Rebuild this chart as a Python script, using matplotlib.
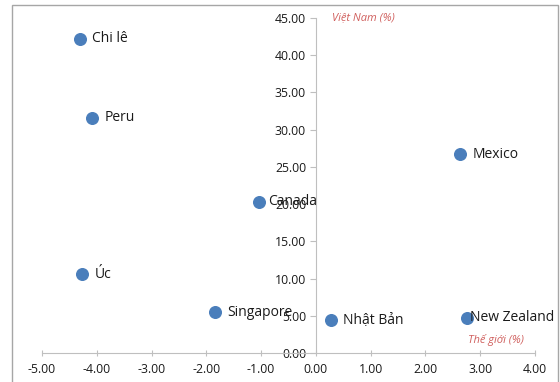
import matplotlib
matplotlib.use("Agg")
import matplotlib.pyplot as plt
from matplotlib.patches import Rectangle

plt.rcParams['font.family'] = ['Open Sans', 'DejaVu Sans']

# data
countries = ["Chi lê", "Peru", "Mexico", "Canada", "Úc", "Singapore", "Nhật Bản", "New Zealand"]
world = [-4.31, -4.09, 2.63, -1.04, -4.27, -1.84, 0.27, 2.77]
vietnam = [42.2, 31.6, 26.7, 20.3, 10.6, 5.5, 4.4, 4.7]
label_dx = [9, 9, 9, 7, 9, 9, 9, 2]

xticks = [-5, -4, -3, -2, -1, 0, 1, 2, 3, 4]
yticks = [0, 5, 10, 15, 20, 25, 30, 35, 40, 45]

fig = plt.figure(figsize=(5.6, 3.82), dpi=100)
ax = fig.add_axes([0.075, 0.076, 0.880, 0.877])

# light frame around the chart area like the excel export
fig.patches.append(Rectangle((0.021, -0.01), 0.975, 0.997, transform=fig.transFigure,
                             fill=False, edgecolor="#a6a6a6", linewidth=1.0))

ax.scatter(world, vietnam, s=70, color="#4a7ebb", zorder=3)
for name, x, y, dx in zip(countries, world, vietnam, label_dx):
    ax.annotate(name, (x, y), xytext=(dx, 0), textcoords="offset points",
                va="center", ha="left", fontsize=10, color="#1a1a1a")

ax.set_xlim(-5, 4)
ax.set_ylim(0, 45)
ax.set_xticks(xticks)
ax.set_yticks(yticks)
ax.set_xticklabels([f"{v:.2f}" for v in xticks])
ax.set_yticklabels([f"{v:.2f}" for v in yticks])

ax.spines["left"].set_position(("data", 0))
ax.spines["bottom"].set_position(("data", 0))
ax.spines["right"].set_visible(False)
ax.spines["top"].set_visible(False)
for s in ("left", "bottom"):
    ax.spines[s].set_color("#bfbfbf")
ax.tick_params(axis="both", colors="#bfbfbf", labelcolor="#1a1a1a", labelsize=8.8)
ax.tick_params(axis="y", direction="out", length=4, pad=3)
ax.tick_params(axis="x", direction="inout", length=5, pad=5)

ax.text(0.3, 45, "Việt Nam (%)", style="italic", color="#d0605e", fontsize=8, va="center")
ax.text(2.78, 1.7, "Thế giới (%)", style="italic", color="#d0605e", fontsize=8, va="center")

fig.savefig("out.png", dpi=100)
